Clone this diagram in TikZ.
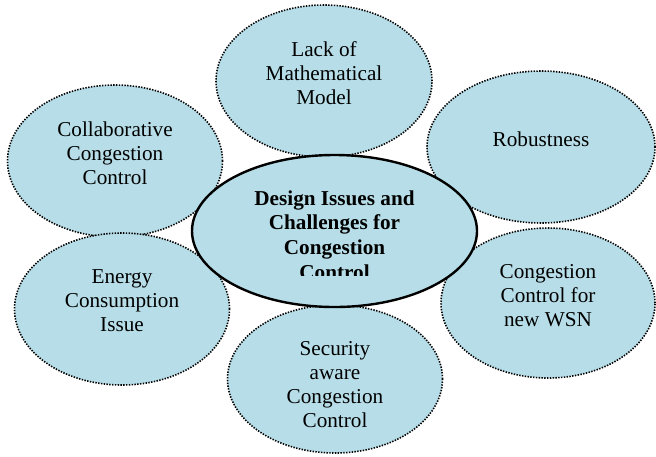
\documentclass[tikz,border=0pt]{standalone}
\usepackage{fontspec}
\setmainfont{Liberation Serif}[Ligatures=TeX]
\usetikzlibrary{shapes.geometric}
\definecolor{bubblefill}{RGB}{183,222,232}

\begin{document}
\begin{tikzpicture}[x=0.5pt, y=-0.5pt,
    bubble/.style={draw, ellipse, fill=bubblefill, line width=0.8pt,
        dash pattern=on 0.7pt off 0.7pt, inner sep=0pt},
    hub/.style={draw, ellipse, fill=bubblefill, line width=1.2pt, inner sep=0pt},
    caption/.style={align=center, font=\fontsize{10.6}{12}\selectfont},
    hubcaption/.style={align=center, font=\bfseries\fontsize{10.6}{12.3}\selectfont}]
            \useasboundingbox (0,0) rectangle (656,456);

            % the six issues around the hub
            \node[bubble, minimum width=108pt, minimum height=76pt] (lack) at (324,81) {};
            \node[bubble, minimum width=114pt, minimum height=76pt] (robust) at (541,147) {};
            \node[bubble, minimum width=107.5pt, minimum height=76pt] (collab) at (115,161) {};
            \node[bubble, minimum width=107.5pt, minimum height=76pt] (energy) at (122,309) {};
            \node[bubble, minimum width=107pt, minimum height=75pt] (wsn) at (548,303) {};
            \node[bubble, minimum width=107.5pt, minimum height=74pt] (security) at (335,379) {};

            \node[caption] (lacktext) at (324,73) {Lack of\\Mathematical\\Model};
            \node[caption] (robusttext) at (541,139) {Robustness};
            \node[caption] (collabtext) at (115,153) {Collaborative\\Congestion\\Control};
            \node[caption] (energytext) at (122,301) {Energy\\Consumption\\Issue};
            \node[caption] (wsntext) at (548,296) {Congestion\\Control for\\new WSN};
            \node[caption] (securitytext) at (335,385) {Security\\aware\\Congestion\\Control};

            % the hub on top, its last line cut off by the text box
            \node[hub, minimum width=142.5pt, minimum height=76pt] (hub) at (334.5,231) {};
            \begin{scope}
                \clip (190,150) rectangle (480,275);
                \node[hubcaption] (hubtext) at (334.5,235) {Design Issues and\\Challenges for\\Congestion\\Control};
            \end{scope}
        \end{tikzpicture}
\end{document}
